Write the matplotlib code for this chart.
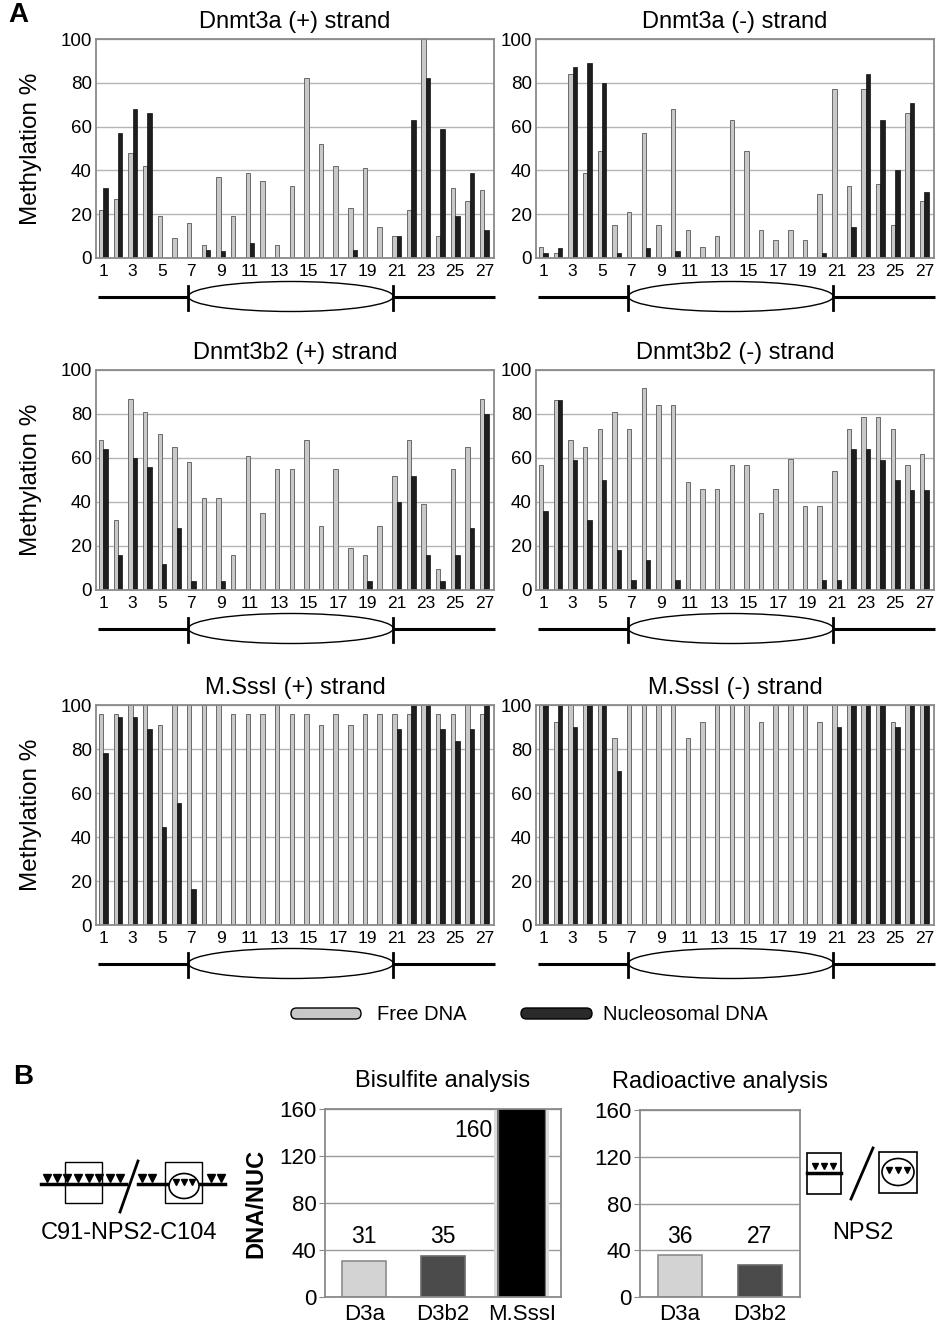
import numpy as np
import matplotlib
matplotlib.use('Agg')
import matplotlib.pyplot as plt
from matplotlib.patches import Ellipse, Rectangle, FancyBboxPatch

plt.rcParams['font.family'] = ['Liberation Sans', 'DejaVu Sans']

# ---- data ----
sites = np.arange(1, 28)

d3a_plus_free = [22, 27, 48, 42, 19, 9, 16, 6, 37, 19, 39, 35, 6, 33, 82, 52, 42, 23, 41, 14, 10, 22, 100, 10, 32, 26, 31]
d3a_plus_nuc = [32, 57, 68, 66, 0, 0, 0, 3.5, 3, 0, 7, 0, 0, 0, 0, 0, 0, 3.5, 0, 0, 10, 63, 82, 59, 19, 39, 13]

d3a_minus_free = [5, 2.5, 84, 39, 49, 15, 21, 57, 15, 68, 13, 5, 10, 63, 49, 13, 8, 13, 8, 29, 77, 33, 77, 34, 15, 66, 26]
d3a_minus_nuc = [2.5, 4.5, 87, 89, 80, 2.5, 0, 4.5, 0, 3, 0, 0, 0, 0, 0, 0, 0, 0, 0, 2.5, 0, 14, 84, 63, 40, 71, 30]

d3b2_plus_free = [68, 32, 87, 81, 71, 65, 58, 42, 42, 16, 61, 35, 55, 55, 68, 29, 55, 19, 16, 29, 52, 68, 39, 9.5, 55, 65, 87]
d3b2_plus_nuc = [64, 16, 60, 56, 12, 28, 4, 0, 4, 0, 0, 0, 0, 0, 0, 0, 0, 0, 4, 0, 40, 52, 16, 4, 16, 28, 80]

d3b2_minus_free = [57, 86.5, 68, 65, 73, 81, 73, 92, 84, 84, 49, 46, 46, 57, 57, 35, 46, 59.5, 38, 38, 54, 73, 78.5, 78.5, 73, 57, 62]
d3b2_minus_nuc = [36, 86.5, 59, 32, 50, 18, 4.5, 13.5, 0, 4.5, 0, 0, 0, 0, 0, 0, 0, 0, 0, 4.5, 4.5, 64, 64, 59, 50, 45.5, 45.5]

sssi_plus_free = [96, 96, 100, 100, 91, 100, 100, 100, 100, 96, 96, 96, 100, 96, 96, 91, 96, 91, 96, 96, 96, 96, 100, 96, 96, 100, 96]
sssi_plus_nuc = [78, 94.5, 94.5, 89, 44.5, 55.5, 16.5, 0, 0, 0, 0, 0, 0, 0, 0, 0, 0, 0, 0, 0, 89, 100, 100, 89, 83.5, 89, 100]

sssi_minus_free = [100, 92.5, 100, 100, 100, 85, 100, 100, 100, 100, 85, 92.5, 100, 100, 100, 92.5, 100, 100, 100, 92.5, 100, 100, 100, 100, 92.5, 100, 100]
sssi_minus_nuc = [100, 100, 90, 100, 100, 70, 0, 0, 0, 0, 0, 0, 0, 0, 0, 0, 0, 0, 0, 0, 90, 100, 100, 100, 90, 100, 100]

panel_titles = ['Dnmt3a (+) strand', 'Dnmt3a (-) strand',
                'Dnmt3b2 (+) strand', 'Dnmt3b2 (-) strand',
                'M.SssI (+) strand', 'M.SssI (-) strand']
panel_free = [d3a_plus_free, d3a_minus_free, d3b2_plus_free, d3b2_minus_free, sssi_plus_free, sssi_minus_free]
panel_nuc = [d3a_plus_nuc, d3a_minus_nuc, d3b2_plus_nuc, d3b2_minus_nuc, sssi_plus_nuc, sssi_minus_nuc]

bis_labels = ['D3a', 'D3b2', 'M.SssI']
bis_values = [31, 35, 160]
rad_labels = ['D3a', 'D3b2']
rad_values = [36, 27]

# ---- figure ----
W, H = 938, 1328
fig = plt.figure(figsize=(W / 100, H / 100), dpi=100)


def px_axes(l, t, r, b):
    return fig.add_axes([l / W, 1 - b / H, (r - l) / W, (b - t) / H])


FREE_C = '#c8c8c8'
NUC_C = '#1e1e1e'
GRID_C = '#b4b4b4'
SPINE_C = '#8a8a8a'

cols = [(96, 494), (536, 934)]
rows = [(39, 258), (370, 590), (705, 925)]
axes_px = []

for k in range(6):
    r, c = divmod(k, 2)
    l, rr = cols[c]
    t, b = rows[r]
    ax = px_axes(l, t, rr, b)
    axes_px.append((l, rr, b))
    free = np.array(panel_free[k], dtype=float)
    nuc = np.array(panel_nuc[k], dtype=float)
    ax.bar(sites - 0.15, free, width=0.3, color=FREE_C, edgecolor='#6a6a6a', linewidth=0.7, zorder=2)
    ax.bar(sites + 0.15, nuc, width=0.3, color=NUC_C, edgecolor='#111111', linewidth=0.5, zorder=2)
    ax.set_xlim(0.5, 27.65)
    ax.set_ylim(0, 100)
    ax.set_yticks(range(0, 101, 20))
    ax.set_xticks(sites[::2])
    ax.set_xticklabels([str(s) for s in sites[::2]])
    ax.yaxis.grid(True, color=GRID_C, linewidth=1.0, zorder=0)
    ax.set_axisbelow(True)
    ax.tick_params(length=0)
    ax.tick_params(axis='x', pad=4, labelsize=12.5)
    ax.tick_params(axis='y', pad=3, labelsize=13.5)
    for sp in ax.spines.values():
        sp.set_color(SPINE_C)
        sp.set_linewidth(1.3)
    ax.set_title(panel_titles[k], fontsize=17, pad=8)
    if c == 0:
        ax.set_ylabel('Methylation %', fontsize=17.5)
        ax.yaxis.set_label_coords(-0.135, 0.5)

# ---- panel B bar charts ----
axb = px_axes(325, 1109, 561, 1297)
xb = np.arange(1, len(bis_values) + 1)
axb.bar(xb[2], bis_values[2], width=0.70, color='#dcdcdc', zorder=1)
axb.bar(xb[2], bis_values[2], width=0.63, color='#707070', zorder=1)
axb.bar(xb, bis_values, width=0.56, color=['#d3d3d3', '#4b4b4b', '#000000'],
        edgecolor=['#8c8c8c', '#6a6a6a', '#000000'], linewidth=1.2, zorder=2)
axb.set_xlim(0.5, 3.5)

axr = px_axes(640, 1110, 800, 1297)
xr = np.arange(1, len(rad_values) + 1)
axr.bar(xr, rad_values, width=0.56, color=['#d3d3d3', '#4b4b4b'],
        edgecolor=['#8c8c8c', '#6a6a6a'], linewidth=1.2, zorder=2)
axr.set_xlim(0.5, 2.5)

for ax, xs, labs in [(axb, xb, bis_labels), (axr, xr, rad_labels)]:
    ax.set_ylim(0, 160)
    ax.set_yticks(range(0, 161, 40))
    ax.set_xticks(xs)
    ax.set_xticklabels(labs)
    ax.yaxis.grid(True, color='#9a9a9a', linewidth=1.0, zorder=0)
    ax.set_axisbelow(True)
    ax.tick_params(axis='y', length=4, color=SPINE_C, labelsize=16, pad=2)
    ax.tick_params(axis='x', length=0, labelsize=16, pad=5)
    for sp in ax.spines.values():
        sp.set_color(SPINE_C)
        sp.set_linewidth(1.3)

for x, v in zip(xb[:2], bis_values[:2]):
    axb.text(x, 42, str(v), ha='center', va='bottom', fontsize=16.5)
axb.text(xb[2] - 0.37, 142, str(bis_values[2]), ha='right', va='center', fontsize=16.5)
for x, v in zip(xr, rad_values):
    axr.text(x, 42, str(v), ha='center', va='bottom', fontsize=16.5)

axb.set_title('Bisulfite analysis', fontsize=17, pad=16)
axr.set_title('Radioactive analysis', fontsize=17, pad=16)

# ---- overlay for schematics, legend and panel letters (pixel coordinates) ----
ov = fig.add_axes([0, 0, 1, 1])
ov.set_xlim(0, W)
ov.set_ylim(H, 0)
ov.axis('off')

for (l, r, b) in axes_px:
    y = b + 38.5
    x1 = l + 0.232 * (r - l)
    x2 = l + 0.747 * (r - l)
    ov.plot([l + 2, x1], [y, y], color='k', lw=2.2, solid_capstyle='butt')
    ov.plot([x2, r + 1], [y, y], color='k', lw=2.2, solid_capstyle='butt')
    ov.add_patch(Ellipse(((x1 + x2) / 2, y), x2 - x1, 30, fill=False, edgecolor='k', lw=1.0))
    for xt in (x1, x2):
        ov.plot([xt, xt], [y - 11, y + 13], color='k', lw=2.0)

# legend
ov.add_patch(FancyBboxPatch((291, 1008), 70, 11, boxstyle='round,pad=0,rounding_size=5.5',
                            facecolor=FREE_C, edgecolor='k', lw=1.0))
ov.text(377, 1014, 'Free DNA', fontsize=14.5, va='center', ha='left')
ov.add_patch(FancyBboxPatch((521, 1008), 71, 11, boxstyle='round,pad=0,rounding_size=5.5',
                            facecolor='#2a2a2a', edgecolor='k', lw=1.0))
ov.text(603, 1014, 'Nucleosomal DNA', fontsize=14.5, va='center', ha='left')

ov.text(18, 15, 'A', fontsize=20, fontweight='bold', ha='center', va='center')
ov.text(23, 1077, 'B', fontsize=20, fontweight='bold', ha='center', va='center')
ov.text(256, 1203, 'DNA/NUC', fontsize=17, fontweight='bold', rotation=90, ha='center', va='center')

# left schematic: C91-NPS2-C104
ov.plot([41, 126], [1184, 1184], color='k', lw=2.5)
ov.plot([138, 225], [1184, 1184], color='k', lw=2.5)
ov.add_patch(Rectangle((65, 1162), 37, 41, fill=False, edgecolor='k', lw=1.0))
ov.plot([47, 57, 67, 78, 89, 99, 110, 120], [1178] * 8, 'v', color='k', ms=5.2)
ov.plot([120, 138], [1212, 1161], color='k', lw=2.0)
ov.add_patch(Rectangle((165, 1162), 37, 41, fill=False, edgecolor='k', lw=1.0))
ov.add_patch(Ellipse((184, 1186), 30, 25, facecolor='white', edgecolor='k', lw=1.2, zorder=3))
ov.plot([142, 152, 211, 221], [1178] * 4, 'v', color='k', ms=5.2)
ov.plot([176, 184, 192], [1182] * 3, 'v', color='k', ms=5, zorder=4)
ov.text(129, 1233, 'C91-NPS2-C104', fontsize=17, ha='center', va='center')

# right schematic: NPS2
ov.add_patch(Rectangle((807, 1153), 34, 41, fill=False, edgecolor='k', lw=1.2))
ov.plot([807, 841], [1173, 1173], color='k', lw=2.5)
ov.plot([815, 824, 833], [1166] * 3, 'v', color='k', ms=5)
ov.plot([851, 873], [1199, 1148], color='k', lw=2.0)
ov.add_patch(Rectangle((879, 1152), 38, 41, fill=False, edgecolor='k', lw=1.2))
ov.add_patch(Ellipse((898, 1172), 32, 27, fill=False, edgecolor='k', lw=1.2))
ov.plot([889, 898, 907], [1170] * 3, 'v', color='k', ms=5)
ov.text(863, 1233, 'NPS2', fontsize=17, ha='center', va='center')

fig.savefig('out.png', dpi=100)
